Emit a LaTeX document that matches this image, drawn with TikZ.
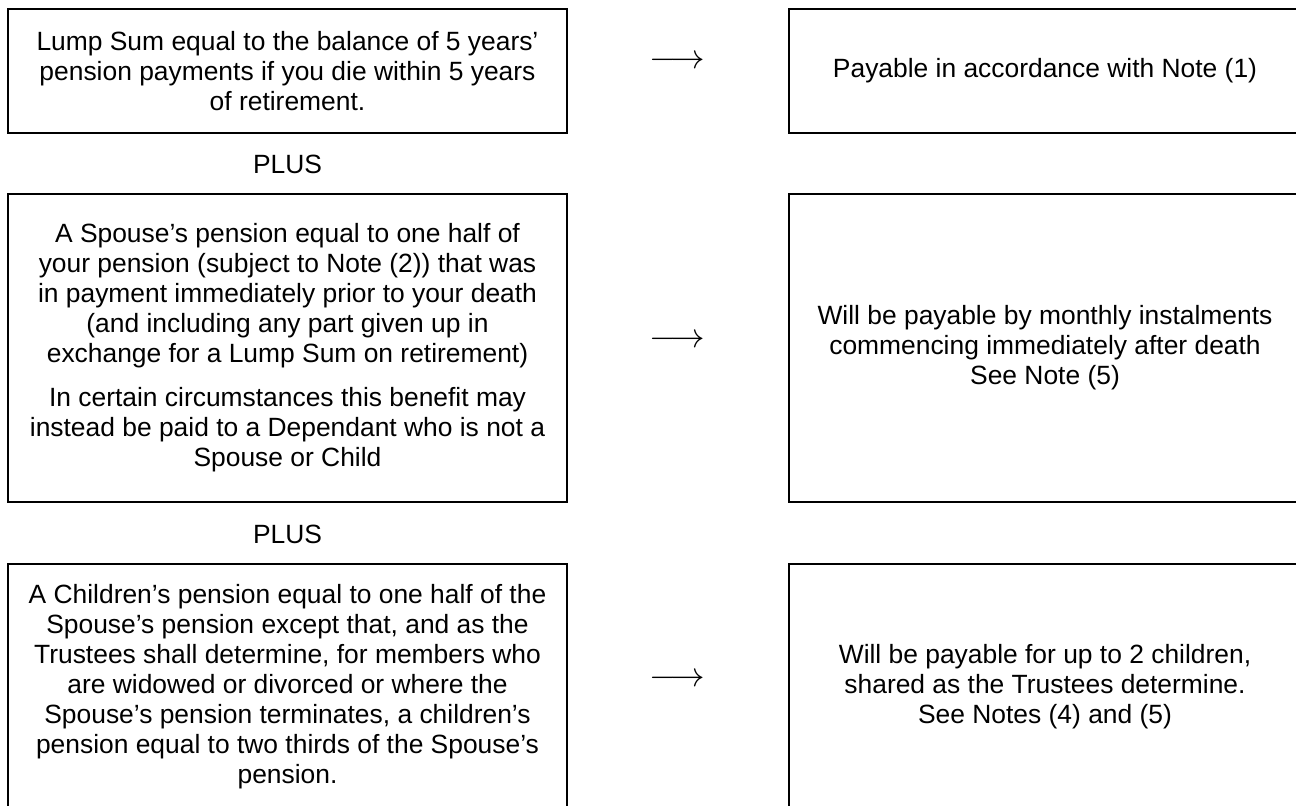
\documentclass[tikz,border=0pt]{standalone}
\usepackage{fontspec}
\setmainfont{Liberation Sans}
\usetikzlibrary{positioning}

\begin{document}
\begin{tikzpicture}[x=0.5pt, y=-0.5pt,
	every node/.style={font=\fontsize{13.2}{15}\selectfont, inner sep=0pt},
	lbox/.style={draw, line width=1.1pt, align=center, minimum width=279.5pt},
	rbox/.style={draw, line width=1.1pt, align=center, minimum width=256pt},
	plus/.style={anchor=center},
	arrsym/.style={anchor=center, font=\fontsize{17}{20}\selectfont}]
	% page 1296 x 805 px, 1px = 0.5pt
	\useasboundingbox (0, 0) rectangle (1296, 805);
	
	% row 1
	\node[lbox, minimum height=62pt] (sumL) at (287.5, 71)
		{Lump Sum equal to the balance of 5 years’\\
		 pension payments if you die within 5 years\\
		 of retirement.};
	\node[rbox, minimum height=62pt] (sumR) at (1045, 71)
		{Payable in accordance with Note (1)};
	\node[arrsym] (arrA) at (677, 62) {$\longrightarrow$};
	
	\node[plus] (plusA) at (287.5, 164) {PLUS};
	
	% row 2
	\node[lbox, minimum height=154pt] (spouseL) at (287.5, 348)
		{A Spouse’s pension equal to one half of\\
		 your pension (subject to Note (2)) that was\\
		 in payment immediately prior to your death\\
		 (and including any part given up in\\
		 exchange for a Lump Sum on retirement)\\[7pt]
		 In certain circumstances this benefit may\\
		 instead be paid to a Dependant who is not a\\
		 Spouse or Child};
	\node[rbox, minimum height=154pt] (spouseR) at (1045, 348)
		{Will be payable by monthly instalments\\
		 commencing immediately after death\\
		 See Note (5)};
	\node[arrsym] (arrB) at (677, 341) {$\longrightarrow$};
	
	\node[plus] (plusB) at (287.5, 534) {PLUS};
	
	% row 3
	\node[lbox, minimum height=123pt] (childL) at (287.5, 687)
		{A Children’s pension equal to one half of the\\
		 Spouse’s pension except that, and as the\\
		 Trustees shall determine, for members who\\
		 are widowed or divorced or where the\\
		 Spouse’s pension terminates, a children’s\\
		 pension equal to two thirds of the Spouse’s\\
		 pension.};
	\node[rbox, minimum height=123pt] (childR) at (1045, 687)
		{Will be payable for up to 2 children,\\
		 shared as the Trustees determine.\\
		 See Notes (4) and (5)};
	\node[arrsym] (arrC) at (677, 680) {$\longrightarrow$};
\end{tikzpicture}
\end{document}
